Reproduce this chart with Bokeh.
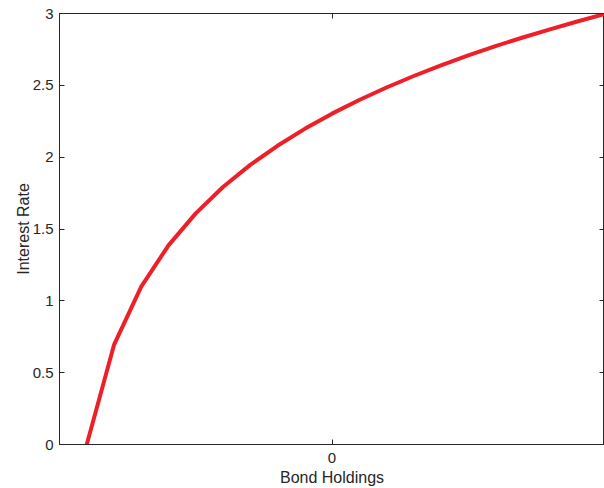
from bokeh.plotting import figure
from bokeh.models import Range1d, LinearAxis, FixedTicker
from bokeh.embed import file_html
from bokeh.resources import INLINE

# Data
bond_holdings = [-9, -8, -7, -6, -5, -4, -3, -2, -1, 0, 1, 2, 3, 4, 5, 6, 7, 8, 9, 10]
interest_rate = [0.000, 0.693, 1.099, 1.386, 1.609, 1.792, 1.946, 2.079, 2.197, 2.303,
                 2.398, 2.485, 2.565, 2.639, 2.708, 2.773, 2.833, 2.890, 2.944, 2.996]
y_ticks = [0, 0.5, 1, 1.5, 2, 2.5, 3]
y_tick_labels = ["0", "0.5", "1", "1.5", "2", "2.5", "3"]
x_ticks = [0]
x_tick_labels = ["0"]

FONT = "Liberation Sans"
TXT = "#262626"

p = figure(width=604, height=488, x_range=Range1d(-10, 10), y_range=Range1d(0, 3),
           output_backend="svg", toolbar_location=None,
           min_border_left=59, min_border_right=0, min_border_top=13, min_border_bottom=44,
           x_axis_label="Bond Holdings", y_axis_label="Interest Rate")
p.background_fill_color = "white"
p.border_fill_color = "white"
p.outline_line_color = TXT
p.outline_line_width = 1
p.xgrid.visible = False
p.ygrid.visible = False

p.line(bond_holdings, interest_rate, line_color="#ee1f26", line_width=4)

def style(ax, ticks, labels):
    ax.ticker = FixedTicker(ticks=ticks)
    ax.major_label_overrides = {t: l for t, l in zip(ticks, labels)}
    ax.major_tick_in = 5
    ax.major_tick_out = 0
    ax.minor_tick_line_color = None
    ax.major_tick_line_color = TXT
    ax.axis_line_color = TXT
    ax.major_label_text_font = FONT
    ax.major_label_text_font_size = "15px"
    ax.major_label_text_color = TXT
    ax.major_label_text_line_height = 0.8
    ax.axis_label_text_font = FONT
    ax.axis_label_text_font_size = "16px"
    ax.axis_label_text_font_style = "normal"
    ax.axis_label_text_color = TXT
    ax.axis_label_text_line_height = 0.8

style(p.xaxis[0], x_ticks, x_tick_labels)
style(p.yaxis[0], y_ticks, y_tick_labels)
p.xaxis[0].major_label_standoff = 8
p.xaxis[0].axis_label_standoff = 3
p.yaxis[0].major_label_standoff = 6
p.yaxis[0].axis_label_standoff = -2

for loc, ticks in (("right", y_ticks), ("above", x_ticks)):
    ax = LinearAxis(ticker=FixedTicker(ticks=ticks))
    ax.major_label_overrides = {t: "" for t in ticks}
    ax.major_tick_in = 5
    ax.major_tick_out = 0
    ax.minor_tick_line_color = None
    ax.major_tick_line_color = TXT
    ax.axis_line_color = TXT
    ax.major_label_text_font_size = "1px"
    ax.major_label_standoff = 0
    p.add_layout(ax, loc)

open("out.html", "w").write(file_html(p, INLINE))
